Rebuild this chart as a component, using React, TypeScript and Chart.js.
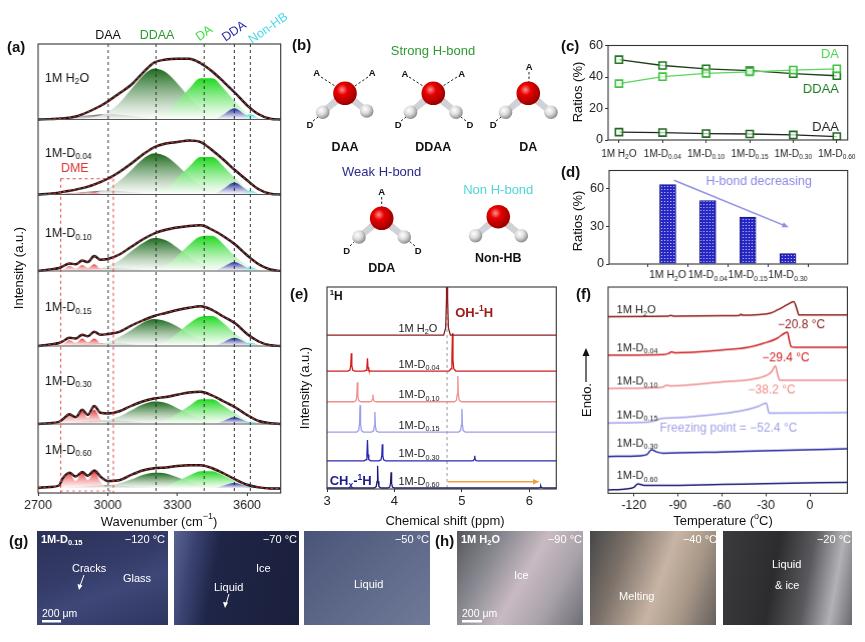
import React, { useEffect, useRef } from "react";
import { Chart, registerables } from "chart.js";

Chart.register(...registerables);

const FONT = "'Liberation Sans', Arial, Helvetica, sans-serif";
type Part = [string, number]; // 0 normal, 1 subscript, 2 superscript

// ---------------- shared sample names ----------------
const SAMPLE_PARTS: Part[][] = [
  [["1M H", 0], ["2", 1], ["O", 0]],
  [["1M-D", 0], ["0.04", 1]],
  [["1M-D", 0], ["0.10", 1]],
  [["1M-D", 0], ["0.15", 1]],
  [["1M-D", 0], ["0.30", 1]],
  [["1M-D", 0], ["0.60", 1]],
];

// ---------------- panel (a): FTIR spectra ----------------
const A_WN = [2700, 2750, 2790, 2805, 2835, 2862, 2890, 2914, 2942, 2968, 3000, 3050, 3100, 3150, 3200, 3250, 3300, 3350, 3400, 3450, 3500, 3550, 3600, 3650, 3700, 3745];
const A_TOTAL = [
  [0, 0.005, 0.012, 0.015, 0.025, 0.04, 0.07, 0.1, 0.14, 0.18, 0.24, 0.35, 0.46, 0.62, 0.76, 0.8, 0.81, 0.81, 0.75, 0.64, 0.5, 0.35, 0.19, 0.07, 0.01, 0],
  [0, 0.01, 0.025, 0.035, 0.05, 0.065, 0.085, 0.105, 0.135, 0.165, 0.21, 0.3, 0.41, 0.53, 0.63, 0.68, 0.7, 0.72, 0.7, 0.59, 0.46, 0.32, 0.19, 0.07, 0.01, 0],
  [0, 0.02, 0.04, 0.06, 0.1, 0.09, 0.14, 0.12, 0.2, 0.15, 0.16, 0.22, 0.32, 0.42, 0.5, 0.55, 0.58, 0.6, 0.61, 0.55, 0.46, 0.35, 0.21, 0.09, 0.02, 0],
  [0, 0.02, 0.04, 0.06, 0.11, 0.1, 0.15, 0.13, 0.19, 0.15, 0.16, 0.19, 0.27, 0.34, 0.4, 0.44, 0.48, 0.51, 0.53, 0.48, 0.39, 0.3, 0.16, 0.06, 0.01, 0],
  [0, 0.01, 0.03, 0.06, 0.13, 0.09, 0.19, 0.12, 0.24, 0.15, 0.14, 0.17, 0.24, 0.3, 0.34, 0.36, 0.39, 0.42, 0.43, 0.38, 0.3, 0.22, 0.12, 0.04, 0.01, 0],
  [0.01, 0.02, 0.04, 0.13, 0.21, 0.16, 0.22, 0.17, 0.24, 0.16, 0.1, 0.11, 0.18, 0.24, 0.27, 0.28, 0.3, 0.31, 0.31, 0.27, 0.2, 0.12, 0.05, 0.015, 0, 0],
];
const A_DAA_WN = [2800, 2850, 2900, 2950, 3000, 3050, 3100, 3150, 3200];
const A_DAA = [
  [0, 0.03, 0.05, 0.065, 0.07, 0.065, 0.05, 0.03, 0],
  [0, 0.02, 0.035, 0.047, 0.05, 0.047, 0.035, 0.02, 0],
  [0, 0.015, 0.028, 0.037, 0.04, 0.037, 0.028, 0.015, 0],
  [0, 0.014, 0.025, 0.033, 0.035, 0.033, 0.025, 0.014, 0],
  [0, 0.018, 0.032, 0.042, 0.045, 0.042, 0.032, 0.018, 0],
  [0, 0.016, 0.028, 0.037, 0.04, 0.037, 0.028, 0.016, 0],
];
const A_DDAA_WN = [2900, 2950, 3000, 3050, 3100, 3150, 3200, 3250, 3300, 3350, 3400, 3450, 3500, 3550];
const A_DDAA = [
  [0.01, 0.04, 0.1, 0.22, 0.4, 0.58, 0.68, 0.63, 0.48, 0.3, 0.15, 0.06, 0.02, 0],
  [0.01, 0.03, 0.08, 0.18, 0.32, 0.47, 0.55, 0.51, 0.39, 0.24, 0.12, 0.05, 0.02, 0],
  [0.01, 0.03, 0.07, 0.14, 0.26, 0.37, 0.44, 0.41, 0.31, 0.19, 0.1, 0.04, 0.01, 0],
  [0.01, 0.02, 0.05, 0.12, 0.21, 0.31, 0.36, 0.33, 0.26, 0.16, 0.08, 0.03, 0.01, 0],
  [0, 0.02, 0.05, 0.1, 0.18, 0.26, 0.3, 0.28, 0.21, 0.13, 0.07, 0.03, 0.01, 0],
  [0, 0.01, 0.03, 0.07, 0.12, 0.18, 0.21, 0.2, 0.15, 0.09, 0.05, 0.02, 0, 0],
];
const A_DA_WN = [3200, 3250, 3300, 3350, 3400, 3450, 3500, 3550, 3600, 3650, 3700];
const A_DA = [
  [0.02, 0.08, 0.24, 0.41, 0.55, 0.55, 0.41, 0.23, 0.09, 0.02, 0],
  [0.02, 0.07, 0.22, 0.37, 0.5, 0.5, 0.37, 0.21, 0.08, 0.02, 0],
  [0.01, 0.07, 0.2, 0.35, 0.46, 0.47, 0.35, 0.19, 0.08, 0.02, 0],
  [0.01, 0.06, 0.17, 0.3, 0.39, 0.4, 0.3, 0.16, 0.07, 0.02, 0],
  [0.01, 0.05, 0.14, 0.24, 0.33, 0.33, 0.24, 0.14, 0.05, 0.01, 0],
  [0.01, 0.03, 0.1, 0.17, 0.23, 0.23, 0.17, 0.1, 0.04, 0.01, 0],
];
const A_DDA_WN = [3460, 3500, 3545, 3590, 3630];
const A_DDA = [
  [0, 0.07, 0.15, 0.07, 0],
  [0, 0.08, 0.16, 0.08, 0],
  [0, 0.06, 0.12, 0.06, 0],
  [0, 0.055, 0.11, 0.055, 0],
  [0, 0.045, 0.09, 0.045, 0],
  [0, 0.04, 0.075, 0.04, 0],
];
const A_NHB_WN = [3570, 3615, 3660];
const A_NHB = [
  [0, 0.07, 0],
  [0, 0.05, 0],
  [0, 0.05, 0],
  [0, 0.045, 0],
  [0, 0.03, 0],
  [0, 0.02, 0],
];
const A_DME_WN = [2790, 2810, 2835, 2862, 2890, 2914, 2942, 2970, 3000];
const A_DME = [
  null,
  [0, 0.01, 0.02, 0.015, 0.025, 0.015, 0.03, 0.01, 0],
  [0, 0.02, 0.07, 0.03, 0.08, 0.04, 0.09, 0.02, 0],
  [0, 0.03, 0.08, 0.04, 0.1, 0.05, 0.1, 0.03, 0],
  [0, 0.06, 0.13, 0.06, 0.17, 0.08, 0.19, 0.06, 0],
  [0, 0.12, 0.2, 0.1, 0.22, 0.11, 0.23, 0.08, 0],
];
const A_OFFSETS = [4.98, 3.98, 2.96, 1.96, 0.92, 0.06];
const A_LABEL_DY = [0.55, 0.55, 0.5, 0.51, 0.57, 0.51];
const A_REF_WN = [3002, 3208, 3415, 3545, 3614];
const A_DME_LINES = [2797, 3024];
const A_DME_TOP = 4.19;

// ---------------- panel (c): ratios ----------------
const C_X = [0, 1, 2, 3, 4, 5];
const C_DDAA = [51.0, 47.3, 45.2, 44.0, 42.1, 40.8];
const C_DA = [35.8, 40.2, 42.3, 43.3, 44.4, 45.2];
const C_DAA = [5.0, 4.7, 4.1, 3.8, 3.2, 2.2];

// ---------------- panel (d): strong H-bond ratio ----------------
const D_X = [0, 1, 2, 3];
const D_SAMPLE_IDX = [0, 1, 3, 4];
const D_VALUES = [63.2, 50.5, 37.4, 8.2];

// ---------------- panel (e): 1H NMR ----------------
const E_OFFSETS = [76.2, 58.4, 43.2, 28.2, 13.9, 0.5];
const E_PEAKS = [
  [[4.78, 60]],
  [[3.36, 8.8], [3.6, 6.3], [4.86, 18.7]],
  [[3.45, 9.6], [3.68, 3.6], [4.94, 12.7]],
  [[3.49, 13.2], [3.71, 9.9], [5.0, 11.5]],
  [[3.6, 10.4], [3.82, 8.3], [5.19, 2.5]],
  [[3.75, 11.0], [3.95, 7.8], [6.17, 1.0]],
];
const E_COLORS = ["#8b1c1c", "#d41e1e", "#ef8f8f", "#9d9de8", "#2a2ab0", "#1c1c78"];

// ---------------- panel (f): DSC ----------------
const F_T = [
  [-138, -97, -95, -93, -60, -48, -47, -46, -35, -27, -22, -15.5, -11, -8.7, -7.6, 26],
  [-138, -100, -96, -94.5, -92, -60, -42, -31.5, -22.3, -17.3, -15.3, -14.1, -12.7, -10, 26],
  [-138, -110, -100, -98, -95, -60, -40, -29.2, -26, -23.5, -21.9, -20.5, 26],
  [-138, -110, -104, -102, -90, -60, -45, -35, -29.7, -27.8, 26],
  [-138, -115, -111, -108, -104, -100, -60, -30, 26],
  [-138, -125, -120, -117.3, -113, -100, -60, -30, 26],
];
const F_V = [
  [176, 176.3, 177.2, 176.5, 176.8, 177.2, 178.5, 177.3, 178, 179.4, 182.7, 187.7, 191, 182.7, 177.7, 177.7],
  [137.7, 138.2, 139.5, 140.8, 140, 142.7, 145.4, 149.4, 154.4, 159.4, 160.4, 152.7, 146, 145.4, 145.4],
  [104.4, 105, 106, 107.7, 107, 111, 113.4, 117.7, 121.5, 127, 117.7, 112.7, 112.7],
  [70, 71, 73, 74.4, 75.4, 79.4, 82.7, 86.7, 90, 80, 80.4],
  [36.7, 37.5, 38.7, 43.4, 41, 40, 41.2, 42.4, 44.4],
  [3.4, 4.5, 6, 9.4, 8, 7.8, 8.8, 9.6, 11],
];
const F_COLORS = ["#8b1a1a", "#cc1f1f", "#f08a8a", "#a0a0ee", "#1f1fa0", "#1a1a70"];
const F_LABEL_V = [182, 144.4, 111, 77.7, 49.4, 17];
const F_NOTES: [number, number, string, string][] = [
  [-5.8, 167.7, "\u221220.8 \u00b0C", "#8b1a1a"],
  [-16.3, 134.4, "\u221229.4 \u00b0C", "#d42020"],
  [-25.9, 102.7, "\u221238.2 \u00b0C", "#f08a8a"],
  [-55.5, 65, "Freezing point = \u221252.4 \u00b0C", "#a0a0e8"],
];

// ---------------- helpers ----------------
function drawRich(ctx: any, x: number, y: number, parts: Part[], size: number, color: string, align = "left", bold = false) {
  ctx.save();
  const fontOf = (p: Part) => `${bold ? "bold " : ""}${p[1] ? size * 0.66 : size}px ${FONT}`;
  let total = 0;
  for (const p of parts) { ctx.font = fontOf(p); total += ctx.measureText(p[0]).width; }
  let cx = align === "center" ? x - total / 2 : align === "right" ? x - total : x;
  ctx.fillStyle = color;
  ctx.textBaseline = "middle";
  ctx.textAlign = "left";
  for (const p of parts) {
    ctx.font = fontOf(p);
    const dy = p[1] === 1 ? size * 0.3 : p[1] === 2 ? -size * 0.32 : 0;
    ctx.fillText(p[0], cx, y + dy);
    cx += ctx.measureText(p[0]).width;
  }
  ctx.restore();
}

function drawArrow(ctx: any, x1: number, y1: number, x2: number, y2: number, color: string, lw: number, head: number) {
  ctx.save();
  ctx.strokeStyle = color; ctx.fillStyle = color; ctx.lineWidth = lw;
  const a = Math.atan2(y2 - y1, x2 - x1);
  ctx.beginPath(); ctx.moveTo(x1, y1); ctx.lineTo(x2 - Math.cos(a) * head * 0.8, y2 - Math.sin(a) * head * 0.8); ctx.stroke();
  ctx.beginPath();
  ctx.moveTo(x2, y2);
  ctx.lineTo(x2 - head * Math.cos(a - 0.4), y2 - head * Math.sin(a - 0.4));
  ctx.lineTo(x2 - head * Math.cos(a + 0.4), y2 - head * Math.sin(a + 0.4));
  ctx.closePath(); ctx.fill();
  ctx.restore();
}

function frame(ctx: any, ca: any) {
  ctx.save();
  ctx.strokeStyle = "#333"; ctx.lineWidth = 1.1;
  ctx.strokeRect(ca.left, ca.top, ca.right - ca.left, ca.bottom - ca.top);
  ctx.restore();
}

function xScale(min: number, max: number, ticks: number[], size: number, xH: number, labels = true) {
  return {
    type: "linear", min, max,
    afterBuildTicks: (s: any) => { s.ticks = ticks.map((v) => ({ value: v })); },
    afterFit: (s: any) => { s.height = xH; },
    ticks: { color: "#222", font: { family: FONT, size }, padding: 2, maxRotation: 0, autoSkip: false, callback: (v: any) => (labels ? String(v) : "") },
    grid: { drawOnChartArea: false, drawTicks: true, tickLength: 3, color: "#333" },
    border: { display: false },
  };
}
function yScale(min: number, max: number, ticks: number[] | null, size: number, yW: number) {
  return {
    type: "linear", min, max,
    afterBuildTicks: (s: any) => { s.ticks = (ticks || []).map((v) => ({ value: v })); },
    afterFit: (s: any) => { s.width = yW; },
    ticks: { display: !!ticks, color: "#222", font: { family: FONT, size }, padding: 2 },
    grid: { display: !!ticks, drawOnChartArea: false, drawTicks: true, tickLength: 3, color: "#333" },
    border: { display: false },
  };
}

type Box = { l: number; t: number; r: number; b: number; yW: number; pt: number; pr: number; xH: number };

function ChartBox({ box, make }: { box: Box; make: (box: Box) => any }) {
  const ref = useRef<HTMLCanvasElement>(null);
  useEffect(() => {
    const chart = new Chart(ref.current as HTMLCanvasElement, make(box));
    return () => chart.destroy();
  }, []);
  return (
    <div style={{ position: "absolute", left: box.l - box.yW, top: box.t - box.pt, width: box.yW + (box.r - box.l) + box.pr, height: box.pt + (box.b - box.t) + box.xH }}>
      <canvas ref={ref} />
    </div>
  );
}

function baseOptions(box: Box, scales: any) {
  return {
    responsive: true, maintainAspectRatio: false, animation: false,
    layout: { padding: { left: 0, top: box.pt, right: box.pr, bottom: 0 } },
    plugins: { legend: { display: false }, tooltip: { enabled: false } },
    elements: { point: { radius: 0 } },
    scales,
  };
}

// ---------------- chart (a) ----------------
const gradFill = (color: string, off: number, peak: number) => (c: any) => {
  const chart = c.chart;
  if (!chart.chartArea) return color;
  const ys = chart.scales.y;
  const top = ys.getPixelForValue(off + peak);
  const bot = ys.getPixelForValue(off);
  const g = chart.ctx.createLinearGradient(0, top, 0, bot + 0.01);
  g.addColorStop(0, color);
  g.addColorStop(1, "rgba(255,255,255,0.75)");
  return g;
};

function makeA(box: Box) {
  const comps = [
    { wn: A_DAA_WN, vals: A_DAA, color: "#5a5a5a", order: 9 },
    { wn: A_DDAA_WN, vals: A_DDAA, color: "#1d6a1d", order: 8 },
    { wn: A_DA_WN, vals: A_DA, color: "#1fd81f", order: 7 },
    { wn: A_DDA_WN, vals: A_DDA, color: "#2424a0", order: 6 },
    { wn: A_NHB_WN, vals: A_NHB, color: "#38dede", order: 5 },
    { wn: A_DME_WN, vals: A_DME, color: "#e83a3a", order: 4 },
  ];
  const datasets: any[] = [];
  A_OFFSETS.forEach((off, k) => {
    comps.forEach((c) => {
      const v = (c.vals as any)[k];
      if (!v) return;
      datasets.push({
        data: c.wn.map((w, i) => ({ x: w, y: off + v[i] })),
        borderWidth: 0, pointRadius: 0, fill: { value: off },
        backgroundColor: gradFill(c.color, off, Math.max(...v)),
        cubicInterpolationMode: "monotone", order: c.order,
      });
    });
    const line = A_WN.map((w, i) => ({ x: w, y: off + A_TOTAL[k][i] }));
    datasets.push({ data: line, borderColor: "#111", borderWidth: 2.4, fill: false, cubicInterpolationMode: "monotone", order: 2 });
    datasets.push({ data: line, borderColor: "#e33030", borderWidth: 1, borderDash: [3, 2], fill: false, cubicInterpolationMode: "monotone", order: 1 });
  });
  const plugin = {
    id: "aExtras",
    afterDatasetsDraw(chart: any) {
      const { ctx, chartArea: ca } = chart;
      const x = chart.scales.x, y = chart.scales.y;
      ctx.save();
      ctx.strokeStyle = "#555"; ctx.lineWidth = 1.2;
      A_OFFSETS.slice(0, 5).forEach((o) => {
        const py = y.getPixelForValue(o);
        ctx.beginPath(); ctx.moveTo(ca.left, py); ctx.lineTo(ca.right, py); ctx.stroke();
      });
      ctx.setLineDash([3, 3]); ctx.lineWidth = 0.9; ctx.strokeStyle = "#222";
      A_REF_WN.forEach((w) => {
        const px = x.getPixelForValue(w);
        ctx.beginPath(); ctx.moveTo(px, ca.top); ctx.lineTo(px, ca.bottom); ctx.stroke();
      });
      ctx.strokeStyle = "#e03030";
      const yt = y.getPixelForValue(A_DME_TOP);
      A_DME_LINES.forEach((w) => {
        const px = x.getPixelForValue(w);
        ctx.beginPath(); ctx.moveTo(px, yt); ctx.lineTo(px, ca.bottom); ctx.stroke();
      });
      const x1 = x.getPixelForValue(A_DME_LINES[0]), x2 = x.getPixelForValue(A_DME_LINES[1]);
      ctx.beginPath(); ctx.moveTo(x1, yt); ctx.lineTo(x2, yt); ctx.stroke();
      ctx.setLineDash([2, 4]);
      const yb = ca.bottom - 2;
      ctx.beginPath(); ctx.moveTo(x1, yb); ctx.lineTo(x2, yb); ctx.stroke();
      ctx.setLineDash([]);
      ctx.restore();
      frame(ctx, ca);
      SAMPLE_PARTS.forEach((p, k) => drawRich(ctx, x.getPixelForValue(2729), y.getPixelForValue(A_OFFSETS[k] + A_LABEL_DY[k]), p, 12.5, "#111"));
      drawRich(ctx, x.getPixelForValue(2858), y.getPixelForValue(A_DME_TOP + 0.14), [["DME", 0]], 12.5, "#e03030", "center");
    },
  };
  return {
    type: "line",
    data: { datasets },
    options: baseOptions(box, {
      x: xScale(2700, 3745, [2700, 3000, 3300, 3600], 12.5, box.xH),
      y: yScale(0, 5.987, null, 12, box.yW),
    }),
    plugins: [plugin],
  };
}

// ---------------- chart (c) ----------------
function makeC(box: Box) {
  const ds = (vals: number[], line: string, pt: string, order: number) => ({
    data: C_X.map((x, i) => ({ x, y: vals[i] })),
    borderColor: line, borderWidth: 1.3, pointStyle: "rect", pointRadius: 5, pointBorderColor: pt,
    pointBackgroundColor: "rgba(255,255,255,0.7)", pointBorderWidth: 1.6, fill: false, order,
  });
  const plugin = {
    id: "cExtras",
    afterDatasetsDraw(chart: any) {
      const { ctx, chartArea: ca } = chart;
      const x = chart.scales.x, y = chart.scales.y;
      frame(ctx, ca);
      C_X.forEach((v, i) => drawRich(ctx, x.getPixelForValue(v), ca.bottom + 14, SAMPLE_PARTS[i], 10, "#222", "center"));
      drawRich(ctx, x.getPixelForValue(5.05), y.getPixelForValue(54.2), [["DA", 0]], 13, "#4cd44c", "right");
      drawRich(ctx, x.getPixelForValue(5.05), y.getPixelForValue(32.3), [["DDAA", 0]], 13, "#1e7a1e", "right");
      drawRich(ctx, x.getPixelForValue(5.05), y.getPixelForValue(8.3), [["DAA", 0]], 13, "#222", "right");
    },
  };
  return {
    type: "line",
    data: {
      datasets: [
        ds(C_DDAA, "#1c3f1c", "#1e7a1e", 2),
        ds(C_DA, "#5ad65a", "#40c440", 1),
        ds(C_DAA, "#222", "#1e6a1e", 3),
      ],
    },
    options: baseOptions(box, {
      x: xScale(-0.25, 5.25, C_X, 11, box.xH, false),
      y: yScale(0, 60, [0, 20, 40, 60], 12.5, box.yW),
    }),
    plugins: [plugin],
  };
}

// ---------------- chart (d) ----------------
function makeD(box: Box) {
  const pc = document.createElement("canvas");
  pc.width = 3; pc.height = 3;
  const g = pc.getContext("2d") as CanvasRenderingContext2D;
  g.fillStyle = "#2626c4"; g.fillRect(0, 0, 3, 3);
  g.fillStyle = "#dcdcff"; g.fillRect(1, 1, 1, 1);
  const pattern = g.createPattern(pc, "repeat");
  const plugin = {
    id: "dExtras",
    afterDatasetsDraw(chart: any) {
      const { ctx, chartArea: ca } = chart;
      const x = chart.scales.x, y = chart.scales.y;
      frame(ctx, ca);
      D_X.forEach((v, i) => drawRich(ctx, x.getPixelForValue(v), ca.bottom + 11.5, SAMPLE_PARTS[D_SAMPLE_IDX[i]], 10.5, "#222", "center"));
      drawArrow(ctx, x.getPixelForValue(0.156), y.getPixelForValue(66.6), x.getPixelForValue(3.02), y.getPixelForValue(29.2), "#8f8fe0", 1.5, 7);
      drawRich(ctx, x.getPixelForValue(3.6), y.getPixelForValue(65.8), [["H-bond decreasing", 0]], 12.5, "#8a8ae6", "right");
    },
  };
  return {
    type: "bar",
    data: {
      datasets: [{
        data: D_X.map((x, i) => ({ x, y: D_VALUES[i] })),
        backgroundColor: pattern, borderColor: "#15157a", borderWidth: 1, barThickness: 16,
      }],
    },
    options: baseOptions(box, {
      x: xScale(-0.72, 3.75, D_X, 11, box.xH, false),
      y: yScale(0, 74.4, [0, 30, 60], 12.5, box.yW),
    }),
    plugins: [plugin],
  };
}

// ---------------- chart (e) ----------------
const E_SHAPE = [[-0.05, 0], [-0.02, 0.06], [-0.008, 0.3], [0, 1], [0.008, 0.3], [0.02, 0.06], [0.05, 0]];
function makeE(box: Box) {
  const datasets = E_PEAKS.map((peaks, k) => {
    const off = E_OFFSETS[k];
    const pts: any[] = [{ x: 3, y: off }];
    peaks.forEach(([p, h]) => E_SHAPE.forEach(([dx, f]) => pts.push({ x: p + dx, y: off + h * f })));
    pts.push({ x: 6.4, y: off });
    return { data: pts, borderColor: E_COLORS[k], borderWidth: 1.3, fill: false, tension: 0 };
  });
  const plugin = {
    id: "eExtras",
    beforeDatasetsDraw(chart: any) {
      const { ctx, chartArea: ca } = chart;
      const px = chart.scales.x.getPixelForValue(4.78);
      ctx.save(); ctx.setLineDash([3, 3]); ctx.strokeStyle = "#9a9a9a"; ctx.lineWidth = 1;
      ctx.beginPath(); ctx.moveTo(px, ca.top); ctx.lineTo(px, ca.bottom); ctx.stroke(); ctx.restore();
    },
    afterDatasetsDraw(chart: any) {
      const { ctx, chartArea: ca } = chart;
      const x = chart.scales.x, y = chart.scales.y;
      frame(ctx, ca);
      SAMPLE_PARTS.forEach((p, k) => drawRich(ctx, x.getPixelForValue(4.06), y.getPixelForValue(E_OFFSETS[k] + 3.2), p, 11, "#222"));
      drawRich(ctx, x.getPixelForValue(3.04), y.getPixelForValue(95), [["1", 2], ["H", 0]], 12, "#111", "left", true);
      drawRich(ctx, x.getPixelForValue(4.9), y.getPixelForValue(87.1), [["OH-", 0], ["1", 2], ["H", 0]], 13, "#a01c1c", "left", true);
      drawRich(ctx, x.getPixelForValue(3.04), y.getPixelForValue(3.6), [["CH", 0], ["x", 1], ["-", 0], ["1", 2], ["H", 0]], 13, "#1c1c8a", "left", true);
      drawArrow(ctx, x.getPixelForValue(4.79), y.getPixelForValue(3.6), x.getPixelForValue(6.15), y.getPixelForValue(3.6), "#f0a040", 1.4, 7);
    },
  };
  return {
    type: "line",
    data: { datasets },
    options: baseOptions(box, {
      x: xScale(3, 6.4, [3, 4, 5, 6], 13, box.xH),
      y: yScale(0, 100, null, 12, box.yW),
    }),
    plugins: [plugin],
  };
}

// ---------------- chart (f) ----------------
function makeF(box: Box) {
  const datasets = F_T.map((ts, k) => ({
    data: ts.map((t, i) => ({ x: t, y: F_V[k][i] })),
    borderColor: F_COLORS[k], borderWidth: 1.5, fill: false, cubicInterpolationMode: "monotone",
  }));
  const plugin = {
    id: "fExtras",
    afterDatasetsDraw(chart: any) {
      const { ctx, chartArea: ca } = chart;
      const x = chart.scales.x, y = chart.scales.y;
      frame(ctx, ca);
      SAMPLE_PARTS.forEach((p, k) => drawRich(ctx, x.getPixelForValue(-131.7), y.getPixelForValue(F_LABEL_V[k]), p, 11, "#222"));
      F_NOTES.forEach(([t, v, s, c]) => drawRich(ctx, x.getPixelForValue(t), y.getPixelForValue(v), [[s, 0]], 12, c, "center"));
    },
  };
  return {
    type: "line",
    data: { datasets },
    options: baseOptions(box, {
      x: xScale(-137.6, 25.6, [-120, -90, -60, -30, 0], 12.5, box.xH),
      y: yScale(0, 205.4, null, 12, box.yW),
    }),
    plugins: [plugin],
  };
}

// ---------------- chart geometry ----------------
const BOX_A: Box = { l: 38.3, t: 44, r: 280, b: 493, yW: 30, pt: 10, pr: 6, xH: 22 };
const BOX_C: Box = { l: 608.3, t: 44, r: 847, b: 140, yW: 24, pt: 8, pr: 17, xH: 20 };
const BOX_D: Box = { l: 609.3, t: 169, r: 847, b: 264, yW: 24, pt: 8, pr: 12, xH: 20 };
const BOX_E: Box = { l: 326.7, t: 287, r: 556, b: 489, yW: 20, pt: 8, pr: 6, xH: 22 };
const BOX_F: Box = { l: 608.3, t: 287.3, r: 846.7, b: 492.7, yW: 20, pt: 8, pr: 6, xH: 22 };

// ---------------- panel (b) molecules ----------------
type Mol = { o: number[]; hl: number[]; hr: number[] };
function Molecule({ o, hl, hr }: Mol) {
  const mid = (a: number[], b: number[]) => [(a[0] + b[0]) / 2, (a[1] + b[1]) / 2];
  return (
    <g>
      {[hl, hr].map((h, i) => {
        const m = mid(o, h);
        return (
          <g key={i}>
            <line x1={o[0]} y1={o[1]} x2={m[0]} y2={m[1]} stroke="#e9a8a8" strokeWidth={6.5} strokeLinecap="round" />
            <line x1={m[0]} y1={m[1]} x2={h[0]} y2={h[1]} stroke="#cfd2d6" strokeWidth={6.5} strokeLinecap="round" />
            <circle cx={h[0]} cy={h[1]} r={6.8} fill="url(#hGrad)" />
          </g>
        );
      })}
      <circle cx={o[0]} cy={o[1]} r={11.8} fill="url(#oGrad)" />
    </g>
  );
}
function Dash({ a, b }: { a: number[]; b: number[] }) {
  return <line x1={a[0]} y1={a[1]} x2={b[0]} y2={b[1]} stroke="#222" strokeWidth={1} strokeDasharray="2.5 2" />;
}
function T(props: any) {
  const { x, y, children, size = 12, color = "#111", bold = false, anchor = "middle", rotate = 0 } = props;
  return (
    <text x={x} y={y} fontSize={size} fill={color} fontWeight={bold ? "bold" : "normal"} textAnchor={anchor}
      dominantBaseline="central" fontFamily={FONT} transform={rotate ? `rotate(${rotate} ${x} ${y})` : undefined}>
      {children}
    </text>
  );
}

const PHOTOS = [
  { l: 37, w: 131, bg: "linear-gradient(160deg, #2b3157 0%, #343b68 40%, #3e4777 62%, #2e355f 100%)" },
  { l: 174, w: 125, bg: "linear-gradient(100deg, #5a6590 0%, #3a4272 16%, #1f2546 34%, #1a1f3c 100%)" },
  { l: 304, w: 126, bg: "linear-gradient(135deg, #4a5478 0%, #5d6888 50%, #6f7998 100%)" },
  { l: 457, w: 126, bg: "linear-gradient(120deg, #55565c 0%, #8a8a92 28%, #c9bac2 52%, #a9a2aa 74%, #6e6e76 100%)" },
  { l: 590, w: 126, bg: "linear-gradient(110deg, #474747 0%, #7a7068 25%, #c8b4a4 55%, #a89888 75%, #66605e 100%)" },
  { l: 723, w: 129, bg: "linear-gradient(100deg, #3b3b3e 0%, #2c2c2e 40%, #5a5a5e 64%, #b2b2b6 84%, #6a6a6e 100%)" },
];

export default function App() {
  return (
    <div style={{ position: "absolute", left: 0, top: 0, width: 865, height: 642, background: "#fff", overflow: "hidden", fontFamily: FONT }}>
      {PHOTOS.map((p, i) => (
        <div key={i} style={{ position: "absolute", left: p.l, top: 531, width: p.w, height: 94, background: p.bg }} />
      ))}
      <ChartBox box={BOX_A} make={makeA} />
      <ChartBox box={BOX_C} make={makeC} />
      <ChartBox box={BOX_D} make={makeD} />
      <ChartBox box={BOX_E} make={makeE} />
      <ChartBox box={BOX_F} make={makeF} />
      <svg width={865} height={642} style={{ position: "absolute", left: 0, top: 0, pointerEvents: "none" }}>
        <defs>
          <radialGradient id="oGrad" cx="38%" cy="35%" r="65%">
            <stop offset="0%" stopColor="#ff9090" />
            <stop offset="35%" stopColor="#e80000" />
            <stop offset="100%" stopColor="#9a0000" />
          </radialGradient>
          <radialGradient id="hGrad" cx="38%" cy="35%" r="65%">
            <stop offset="0%" stopColor="#ffffff" />
            <stop offset="50%" stopColor="#dcdcdc" />
            <stop offset="100%" stopColor="#8e8e8e" />
          </radialGradient>
        </defs>
        {/* panel letters */}
        <T x={7} y={46} size={15} bold anchor="start">(a)</T>
        <T x={292} y={44} size={15} bold anchor="start">(b)</T>
        <T x={561} y={45} size={15} bold anchor="start">(c)</T>
        <T x={561} y={171} size={15} bold anchor="start">(d)</T>
        <T x={290} y={293} size={15} bold anchor="start">(e)</T>
        <T x={576} y={293} size={15} bold anchor="start">(f)</T>
        <T x={9} y={540} size={15} bold anchor="start">(g)</T>
        <T x={435} y={540} size={15} bold anchor="start">(h)</T>

        {/* panel (a) header labels and axis titles */}
        <T x={108} y={35} size={12.5}>DAA</T>
        <T x={157} y={35} size={12.5} color="#2c9a2c">DDAA</T>
        <T x={204} y={33} size={12.5} color="#3fdc3f" rotate={-35}>DA</T>
        <T x={234} y={31} size={12.5} color="#2a2aa8" rotate={-35}>DDA</T>
        <T x={268} y={28} size={12.5} color="#4ad8e8" rotate={-35}>Non-HB</T>
        <T x={18} y={268} size={13} rotate={-90}>Intensity (a.u.)</T>
        <text x={159} y={521} fontSize={13} fill="#111" textAnchor="middle" dominantBaseline="central" fontFamily={FONT}>
          Wavenumber (cm<tspan fontSize={9} dy={-5}>{"\u22121"}</tspan><tspan dy={5}>)</tspan>
        </text>

        {/* panel (c)/(d) titles */}
        <T x={577} y={92} size={13} rotate={-90}>Ratios (%)</T>
        <T x={577} y={221} size={13} rotate={-90}>Ratios (%)</T>

        {/* panel (e)/(f) titles */}
        <T x={304} y={388} size={13} rotate={-90}>Intensity (a.u.)</T>
        <T x={445} y={520} size={13}>Chemical shift (ppm)</T>
        <text x={723} y={520} fontSize={13} fill="#111" textAnchor="middle" dominantBaseline="central" fontFamily={FONT}>
          Temperature (<tspan fontSize={9} dy={-4}>o</tspan><tspan dy={4}>C)</tspan>
        </text>
        <T x={586} y={400} size={13} rotate={-90}>Endo.</T>
        <line x1={586} y1={382} x2={586} y2={354} stroke="#111" strokeWidth={1.2} />
        <polygon points="586,348 582.5,356 589.5,356" fill="#111" />

        {/* panel (b) */}
        <T x={433} y={50} size={13} color="#2f9a2f">Strong H-bond</T>
        <T x={381.7} y={171.7} size={13} color="#2a2a8a">Weak H-bond</T>
        <T x={498.3} y={189.3} size={13} color="#4fd6d6">Non H-bond</T>
        {/* DAA */}
        <Dash a={[321, 77]} b={[335, 86]} />
        <Dash a={[368, 77]} b={[355, 86]} />
        <Dash a={[313, 121]} b={[318, 117]} />
        <Molecule o={[345, 93.3]} hl={[322.7, 112.3]} hr={[366.7, 111]} />
        <T x={316.7} y={72} size={9.5} bold>A</T>
        <T x={372.3} y={72} size={9.5} bold>A</T>
        <T x={310} y={124.3} size={9.5} bold>D</T>
        <T x={345} y={146.7} size={12.5} bold>DAA</T>
        {/* DDAA */}
        <Dash a={[409, 77]} b={[423, 86]} />
        <Dash a={[457, 77]} b={[443, 86]} />
        <Dash a={[401, 121]} b={[406, 117]} />
        <Dash a={[466, 121]} b={[461, 117]} />
        <Molecule o={[433.3, 93.3]} hl={[410.5, 112.3]} hr={[456, 112.3]} />
        <T x={405} y={73} size={9.5} bold>A</T>
        <T x={461.7} y={73} size={9.5} bold>A</T>
        <T x={398.3} y={124.3} size={9.5} bold>D</T>
        <T x={470} y={124.3} size={9.5} bold>D</T>
        <T x={433.3} y={146.7} size={12.5} bold>DDAA</T>
        {/* DA */}
        <Dash a={[529, 72]} b={[529, 82]} />
        <Dash a={[496, 121]} b={[501, 117]} />
        <Molecule o={[528.3, 93.3]} hl={[505.5, 112.3]} hr={[551, 112.3]} />
        <T x={529.3} y={66.7} size={9.5} bold>A</T>
        <T x={493.3} y={124.3} size={9.5} bold>D</T>
        <T x={528.3} y={146.7} size={12.5} bold>DA</T>
        {/* DDA */}
        <Dash a={[381.7, 197]} b={[381.7, 207]} />
        <Dash a={[350, 246]} b={[355, 241]} />
        <Dash a={[415, 246]} b={[409, 241]} />
        <Molecule o={[381.7, 218.3]} hl={[359, 237]} hr={[404.3, 237]} />
        <T x={381.7} y={191.7} size={9.5} bold>A</T>
        <T x={346.7} y={250} size={9.5} bold>D</T>
        <T x={418.3} y={250} size={9.5} bold>D</T>
        <T x={381.7} y={268.3} size={12.5} bold>DDA</T>
        {/* Non-HB */}
        <Molecule o={[498.3, 216.7]} hl={[475.5, 235.7]} hr={[521.3, 235.7]} />
        <T x={498.3} y={258.3} size={12.5} bold>Non-HB</T>

        {/* panel (g) photo labels */}
        <text x={41} y={539} fontSize={11} fill="#fff" fontWeight="bold" dominantBaseline="central" fontFamily={FONT}>
          1M-D<tspan fontSize={7.5} dy={3}>0.15</tspan>
        </text>
        <T x={165} y={539} size={11} color="#fff" anchor="end">{"\u2212120 \u00b0C"}</T>
        <T x={72} y={568} size={11} color="#fff" anchor="start">Cracks</T>
        <T x={123} y={578} size={11} color="#fff" anchor="start">Glass</T>
        <line x1={84} y1={575} x2={80} y2={586} stroke="#fff" strokeWidth={1} />
        <polygon points="79,590 77.5,584 82.5,585.5" fill="#fff" />
        <T x={42} y={613} size={10.5} color="#fff" anchor="start">200 μm</T>
        <rect x={42} y={620} width={19} height={2.5} fill="#fff" />
        <T x={297} y={539} size={11} color="#fff" anchor="end">{"\u221270 \u00b0C"}</T>
        <T x={256} y={568} size={11} color="#fff" anchor="start">Ice</T>
        <T x={214} y={587} size={11} color="#fff" anchor="start">Liquid</T>
        <line x1={229} y1={594} x2={226} y2={604} stroke="#fff" strokeWidth={1} />
        <polygon points="225,608 223,602 228,602.5" fill="#fff" />
        <T x={429} y={539} size={11} color="#fff" anchor="end">{"\u221250 \u00b0C"}</T>
        <T x={354} y={584} size={11} color="#fff" anchor="start">Liquid</T>

        {/* panel (h) photo labels */}
        <text x={461} y={539} fontSize={11} fill="#fff" fontWeight="bold" dominantBaseline="central" fontFamily={FONT}>
          1M H<tspan fontSize={7.5} dy={3}>2</tspan><tspan dy={-3}>O</tspan>
        </text>
        <T x={582} y={539} size={11} color="#fff" anchor="end">{"\u221290 \u00b0C"}</T>
        <T x={514} y={575} size={11} color="#fff" anchor="start">Ice</T>
        <T x={462} y={613} size={10.5} color="#fff" anchor="start">200 μm</T>
        <rect x={462} y={620} width={20} height={2.5} fill="#fff" />
        <T x={717} y={539} size={11} color="#fff" anchor="end">{"\u221240 \u00b0C"}</T>
        <T x={619} y={596} size={11} color="#fff" anchor="start">Melting</T>
        <T x={851} y={539} size={11} color="#fff" anchor="end">{"\u221220 \u00b0C"}</T>
        <T x={772} y={564} size={11} color="#fff" anchor="start">Liquid</T>
        <T x={775} y={585} size={11} color="#fff" anchor="start">{"& ice"}</T>
      </svg>
    </div>
  );
}
